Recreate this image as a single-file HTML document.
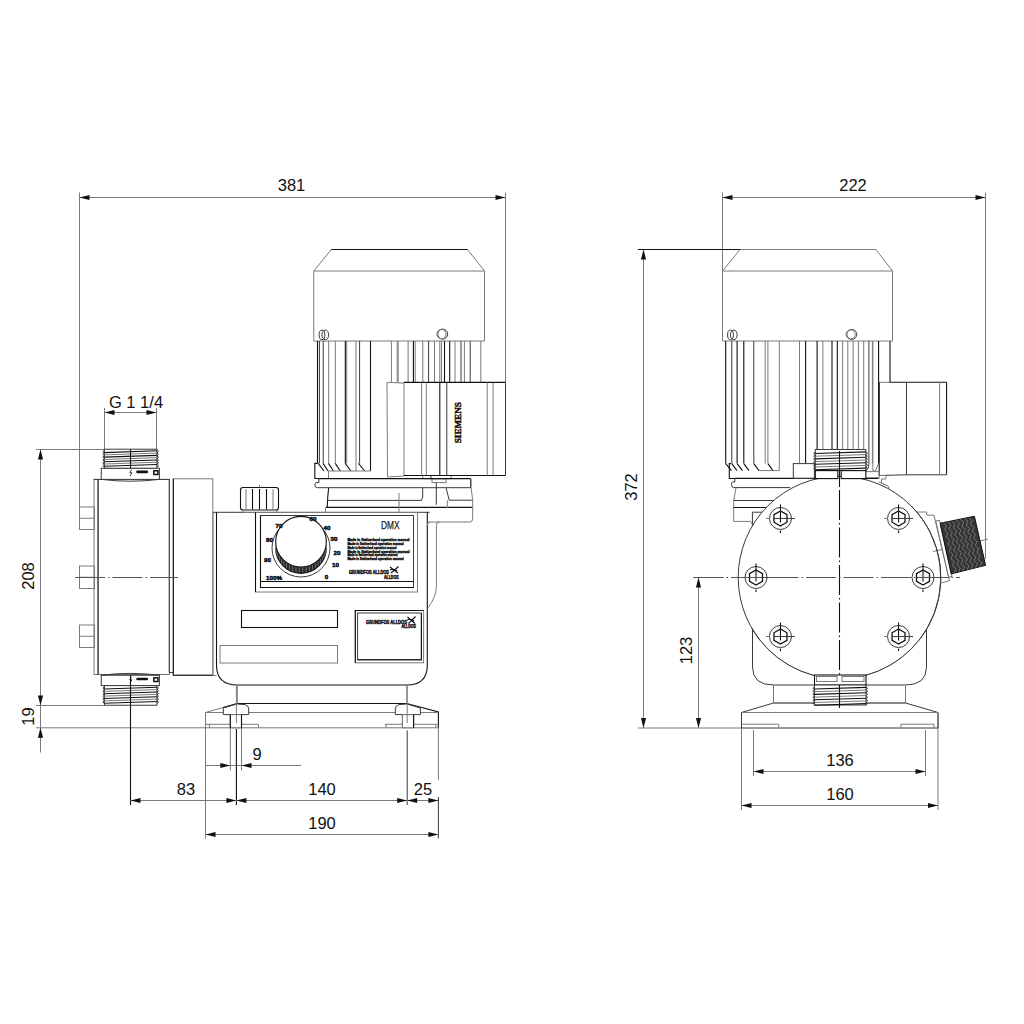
<!DOCTYPE html>
<html><head><meta charset="utf-8"><title>DMX pump drawing</title><style>
html,body{margin:0;padding:0;background:#fff;}
svg{display:block;}
.g{fill:none;stroke:#7a7a7a;stroke-width:1;}
.m{fill:none;stroke:#3a3a3a;stroke-width:1;}
.mw{fill:#fff;stroke:#3a3a3a;stroke-width:1;}
.k{fill:none;stroke:#111;stroke-width:1.1;}
.kw{fill:#fff;stroke:#111;stroke-width:1.1;}
.gw{fill:#fff;stroke:#6e6e6e;stroke-width:1;}
.cl{fill:none;stroke:#555;stroke-width:1;stroke-dasharray:30 3 1.5 3;}
.clk{fill:none;stroke:#111;stroke-width:1.1;stroke-dasharray:30 3 1.5 3;}
.ar{fill:#111;stroke:none;}
.fk{fill:#111;stroke:none;}
.t{font-family:"Liberation Sans",sans-serif;fill:#111;}
.tb{font-family:"Liberation Sans",sans-serif;fill:#111;font-weight:bold;}
.ts{font-family:"Liberation Sans",sans-serif;fill:#111;font-weight:bold;stroke:#111;stroke-width:0.45;}
</style></head><body>
<svg width="1024" height="1024" viewBox="0 0 1024 1024">
<rect x="0" y="0" width="1024" height="1024" fill="#fff"/>
<line class="g" x1="79.5" y1="192.5" x2="79.5" y2="507"/>
<line class="g" x1="505.5" y1="192.5" x2="505.5" y2="382.4"/>
<line class="g" x1="79.5" y1="197.5" x2="505.5" y2="197.5"/>
<polygon class="ar" points="79.5,197.5 89.5,194.9 89.5,200.1"/>
<polygon class="ar" points="505.5,197.5 495.5,194.9 495.5,200.1"/>
<text class="t" x="291.5" y="191" font-size="16.5" text-anchor="middle">381</text>
<line class="g" x1="104.5" y1="408" x2="104.5" y2="449.5"/>
<line class="g" x1="156.5" y1="408" x2="156.5" y2="449.5"/>
<line class="g" x1="104.5" y1="412.5" x2="156.5" y2="412.5"/>
<polygon class="ar" points="104.5,412.5 114.5,409.9 114.5,415.1"/>
<polygon class="ar" points="156.5,412.5 146.5,409.9 146.5,415.1"/>
<text class="t" x="136" y="407.5" font-size="16.5" text-anchor="middle">G 1 1/4</text>
<line class="g" x1="36" y1="449.5" x2="104.5" y2="449.5"/>
<line class="g" x1="36" y1="705.5" x2="104.5" y2="705.5"/>
<line class="g" x1="36" y1="727.8" x2="205.5" y2="727.8"/>
<line class="g" x1="40.5" y1="449.5" x2="40.5" y2="752.5"/>
<polygon class="ar" points="40.5,449.5 37.9,459.5 43.1,459.5"/>
<polygon class="ar" points="40.5,705.5 37.9,695.5 43.1,695.5"/>
<polygon class="ar" points="40.5,727.8 37.9,737.8 43.1,737.8"/>
<text class="t" x="34" y="576" font-size="16.5" text-anchor="middle" transform="rotate(-90 34 576)">208</text>
<text class="t" x="34" y="716.5" font-size="16.5" text-anchor="middle" transform="rotate(-90 34 716.5)">19</text>
<line class="g" x1="230.3" y1="727.8" x2="230.3" y2="770.4"/>
<line class="g" x1="241.5" y1="727.8" x2="241.5" y2="770.4"/>
<line class="g" x1="205.5" y1="765.5" x2="301" y2="765.5"/>
<polygon class="ar" points="230.3,765.5 220.3,762.9 220.3,768.1"/>
<polygon class="ar" points="241.5,765.5 251.5,762.9 251.5,768.1"/>
<text class="t" x="257" y="760" font-size="16.5" text-anchor="middle">9</text>
<line class="k" x1="130.5" y1="705.5" x2="130.5" y2="805"/>
<line class="k" x1="236.4" y1="729" x2="236.4" y2="805"/>
<line class="m" x1="407.2" y1="730.4" x2="407.2" y2="805"/>
<line class="g" x1="130.5" y1="800.5" x2="438.5" y2="800.5"/>
<polygon class="ar" points="130.5,800.5 140.5,797.9 140.5,803.1"/>
<polygon class="ar" points="236.4,800.5 226.4,797.9 226.4,803.1"/>
<polygon class="ar" points="236.4,800.5 246.4,797.9 246.4,803.1"/>
<polygon class="ar" points="407.2,800.5 397.2,797.9 397.2,803.1"/>
<polygon class="ar" points="407.2,800.5 417.2,797.9 417.2,803.1"/>
<polygon class="ar" points="438.4,800.5 428.4,797.9 428.4,803.1"/>
<text class="t" x="186" y="794.5" font-size="16.5" text-anchor="middle">83</text>
<text class="t" x="322" y="794.5" font-size="16.5" text-anchor="middle">140</text>
<text class="t" x="423" y="794.5" font-size="16.5" text-anchor="middle">25</text>
<line class="g" x1="205.5" y1="712.5" x2="205.5" y2="838.5"/>
<line class="g" x1="438.4" y1="727.8" x2="438.4" y2="780"/>
<line class="m" x1="438.4" y1="797" x2="438.4" y2="838.5"/>
<line class="g" x1="205.5" y1="834.5" x2="438.4" y2="834.5"/>
<polygon class="ar" points="205.5,834.5 215.5,831.9 215.5,837.1"/>
<polygon class="ar" points="438.4,834.5 428.4,831.9 428.4,837.1"/>
<text class="t" x="322" y="828.5" font-size="16.5" text-anchor="middle">190</text>
<line class="g" x1="722.5" y1="192.5" x2="722.5" y2="270.75"/>
<line class="g" x1="985.5" y1="192.5" x2="985.5" y2="559"/>
<line class="g" x1="722.5" y1="197.5" x2="985.5" y2="197.5"/>
<polygon class="ar" points="722.5,197.5 732.5,194.9 732.5,200.1"/>
<polygon class="ar" points="985.5,197.5 975.5,194.9 975.5,200.1"/>
<text class="t" x="853" y="191" font-size="16.5" text-anchor="middle">222</text>
<line class="k" x1="638" y1="249.5" x2="876" y2="249.5"/>
<line class="g" x1="643.5" y1="249.5" x2="643.5" y2="728"/>
<polygon class="ar" points="643.5,249.5 640.9,259.5 646.1,259.5"/>
<polygon class="ar" points="643.5,728 640.9,718 646.1,718"/>
<text class="t" x="637" y="487" font-size="16.5" text-anchor="middle" transform="rotate(-90 637 487)">372</text>
<line class="cl" x1="693.5" y1="577.5" x2="960" y2="577.5"/>
<line class="g" x1="698.5" y1="577.5" x2="698.5" y2="728"/>
<polygon class="ar" points="698.5,577.5 695.9,587.5 701.1,587.5"/>
<polygon class="ar" points="698.5,728 695.9,718 701.1,718"/>
<text class="t" x="692" y="650.5" font-size="16.5" text-anchor="middle" transform="rotate(-90 692 650.5)">123</text>
<line class="g" x1="638" y1="728" x2="741" y2="728"/>
<line class="g" x1="753.5" y1="730" x2="753.5" y2="776"/>
<line class="g" x1="925.5" y1="730" x2="925.5" y2="776"/>
<line class="g" x1="753.5" y1="771.5" x2="925.5" y2="771.5"/>
<polygon class="ar" points="753.5,771.5 763.5,768.9 763.5,774.1"/>
<polygon class="ar" points="925.5,771.5 915.5,768.9 915.5,774.1"/>
<text class="t" x="840" y="765.5" font-size="16.5" text-anchor="middle">136</text>
<line class="g" x1="741.5" y1="712.5" x2="741.5" y2="810"/>
<line class="g" x1="938" y1="712.5" x2="938" y2="810"/>
<line class="g" x1="741.5" y1="805.5" x2="938" y2="805.5"/>
<polygon class="ar" points="741.5,805.5 751.5,802.9 751.5,808.1"/>
<polygon class="ar" points="938,805.5 928,802.9 928,808.1"/>
<text class="t" x="840" y="799.5" font-size="16.5" text-anchor="middle">160</text>
<rect class="g" x="79.5" y="507" width="15" height="22.5"/>
<line class="g" x1="79.5" y1="518.25" x2="95" y2="518.25"/>
<rect class="g" x="79.5" y="566" width="15" height="22.5"/>
<line class="g" x1="79.5" y1="577.25" x2="95" y2="577.25"/>
<rect class="g" x="79.5" y="625" width="15" height="22.5"/>
<line class="g" x1="79.5" y1="636.25" x2="95" y2="636.25"/>
<rect class="g" x="94" y="479.5" width="4" height="195"/>
<rect class="gw" x="98" y="479.5" width="71.5" height="195"/>
<line class="m" x1="98.2" y1="479.5" x2="98.2" y2="675"/>
<line class="m" x1="169.2" y1="479.4" x2="169.2" y2="672.5"/>
<line class="m" x1="169.2" y1="672.5" x2="173.3" y2="672.5"/>
<rect class="g" x="173.3" y="478.8" width="39.5" height="196.4"/>
<line class="k" x1="173.3" y1="478.8" x2="173.3" y2="675.2"/>
<line class="k" x1="173.3" y1="675.2" x2="212.8" y2="675.2"/>
<rect class="mw" x="101.25" y="468.2" width="58.15" height="11.2"/>
<rect class="fk" x="153.1" y="470" width="5.6" height="5.2"/>
<rect x="154.6" y="471.5" width="2.6" height="2.2" fill="#fff"/>
<rect class="fk" x="136.3" y="470.6" width="11.7" height="2.6" rx="1"/>
<path class="m" d="M131.5 469.7 L129.8 472.7 L131.8 472.7 L130 476.2"/>
<rect class="mw" x="104.4" y="449.2" width="52.5" height="19"/>
<line class="k" x1="104.4" y1="452.6" x2="156.9" y2="450.8"/>
<line class="g" x1="104.4" y1="454.89" x2="156.9" y2="453.09"/>
<line class="k" x1="104.4" y1="457.17" x2="156.9" y2="455.37"/>
<line class="g" x1="104.4" y1="459.46" x2="156.9" y2="457.66"/>
<line class="k" x1="104.4" y1="461.74" x2="156.9" y2="459.94"/>
<line class="g" x1="104.4" y1="464.03" x2="156.9" y2="462.23"/>
<line class="k" x1="104.4" y1="466.31" x2="156.9" y2="464.51"/>
<path class="m" d="M104.4 450.2 L102.8 451.6 L104.4 453"/>
<path class="m" d="M156.9 450.2 L158.5 451.6 L156.9 453"/>
<path class="m" d="M104.4 453 L102.8 454.4 L104.4 455.8"/>
<path class="m" d="M156.9 453 L158.5 454.4 L156.9 455.8"/>
<path class="m" d="M104.4 455.8 L102.8 457.2 L104.4 458.6"/>
<path class="m" d="M156.9 455.8 L158.5 457.2 L156.9 458.6"/>
<path class="m" d="M104.4 458.6 L102.8 460 L104.4 461.4"/>
<path class="m" d="M156.9 458.6 L158.5 460 L156.9 461.4"/>
<path class="m" d="M104.4 461.4 L102.8 462.8 L104.4 464.2"/>
<path class="m" d="M156.9 461.4 L158.5 462.8 L156.9 464.2"/>
<path class="m" d="M104.4 464.2 L102.8 465.6 L104.4 467"/>
<path class="m" d="M156.9 464.2 L158.5 465.6 L156.9 467"/>
<line class="k" x1="130.5" y1="449.2" x2="130.5" y2="468.2"/>
<path class="m" d="M93.75 479.4 L101.25 479.4 Q130.5 483 159.4 479.4 L169.4 479.4"/>
<rect class="mw" x="101.25" y="675.25" width="58.15" height="10.35"/>
<rect class="fk" x="153.1" y="677.05" width="5.6" height="5.2"/>
<rect x="154.6" y="678.55" width="2.6" height="2.2" fill="#fff"/>
<rect class="fk" x="136.3" y="677.65" width="11.7" height="2.6" rx="1"/>
<path class="m" d="M131.5 676.75 L129.8 679.75 L131.8 679.75 L130 683.25"/>
<path class="m" d="M101.25 675.25 Q130.5 671.5 159.4 675.25"/>
<rect class="mw" x="104.4" y="685.6" width="52.5" height="19.65"/>
<line class="k" x1="104.4" y1="689" x2="156.9" y2="687.2"/>
<line class="g" x1="104.4" y1="691.38" x2="156.9" y2="689.58"/>
<line class="k" x1="104.4" y1="693.76" x2="156.9" y2="691.96"/>
<line class="g" x1="104.4" y1="696.14" x2="156.9" y2="694.34"/>
<line class="k" x1="104.4" y1="698.51" x2="156.9" y2="696.71"/>
<line class="g" x1="104.4" y1="700.89" x2="156.9" y2="699.09"/>
<line class="k" x1="104.4" y1="703.27" x2="156.9" y2="701.47"/>
<path class="m" d="M104.4 686.6 L102.8 688 L104.4 689.4"/>
<path class="m" d="M156.9 686.6 L158.5 688 L156.9 689.4"/>
<path class="m" d="M104.4 689.4 L102.8 690.8 L104.4 692.2"/>
<path class="m" d="M156.9 689.4 L158.5 690.8 L156.9 692.2"/>
<path class="m" d="M104.4 692.2 L102.8 693.6 L104.4 695"/>
<path class="m" d="M156.9 692.2 L158.5 693.6 L156.9 695"/>
<path class="m" d="M104.4 695 L102.8 696.4 L104.4 697.8"/>
<path class="m" d="M156.9 695 L158.5 696.4 L156.9 697.8"/>
<path class="m" d="M104.4 697.8 L102.8 699.2 L104.4 700.6"/>
<path class="m" d="M156.9 697.8 L158.5 699.2 L156.9 700.6"/>
<path class="m" d="M104.4 700.6 L102.8 702 L104.4 703.4"/>
<path class="m" d="M156.9 700.6 L158.5 702 L156.9 703.4"/>
<line class="clk" x1="130.5" y1="675.25" x2="130.5" y2="705.25"/>
<line class="cl" x1="75" y1="577.5" x2="178" y2="577.5"/>
<path class="m" d="M213 512.3 L429.7 512.3"/>
<path class="k" d="M427.3 512.3 L427.3 665 Q427.3 685 407 685 L237.5 685 Q216.5 685 216.5 665 L216.5 512.3"/>
<line class="g" x1="213" y1="512.5" x2="213" y2="675"/>
<line class="g" x1="212.5" y1="675.5" x2="216.5" y2="675.5"/>
<path class="g" d="M439.5 522 Q436.4 522 436.4 525.5 L436.4 585.6 Q436.4 597 427.6 608.4"/>
<path class="g" d="M427.3 525 Q427.6 522 430 522"/>
<rect class="k" x="240.5" y="487.5" width="38" height="22.5" rx="2.5"/>
<line class="g" x1="246" y1="489" x2="246" y2="509.5"/>
<line class="k" x1="252.5" y1="489" x2="252.5" y2="509.5"/>
<line class="k" x1="259.5" y1="489" x2="259.5" y2="509.5"/>
<line class="k" x1="266.5" y1="489" x2="266.5" y2="509.5"/>
<line class="g" x1="273" y1="489" x2="273" y2="509.5"/>
<path class="g" d="M242 510 L244 512.5 L276 512.5 L278 510"/>
<line class="g" x1="259.5" y1="485" x2="259.5" y2="487.5"/>
<rect class="g" x="255.5" y="512.5" width="162" height="79.5"/>
<line class="k" x1="255.5" y1="512.3" x2="255.5" y2="592"/>
<rect class="m" x="260.5" y="515.5" width="153" height="72"/>
<path class="k" d="M260.5 515.5 L260.5 587.5 L413.5 587.5"/>
<line class="k" x1="260.5" y1="581.5" x2="413.5" y2="581.5"/>
<circle class="m" cx="301" cy="548" r="29"/>
<path d="M275.7 541.7 A25.3 25.3 0 0 0 326.3 541.7 L326.3 548 A25.3 25.3 0 0 1 275.7 548 Z" fill="#2a2a2a"/>
<path d="M275.7 548 A25.3 25.3 0 0 0 326.3 548" fill="none" stroke="#111" stroke-width="1.2"/>
<line x1="276.01" y1="545.66" x2="276.01" y2="551.16" stroke="#9a9a9a" stroke-width="0.6"/>
<line x1="276.77" y1="548.98" x2="276.77" y2="554.48" stroke="#9a9a9a" stroke-width="0.6"/>
<line x1="277.96" y1="552.16" x2="277.96" y2="557.66" stroke="#9a9a9a" stroke-width="0.6"/>
<line x1="279.58" y1="555.16" x2="279.58" y2="560.66" stroke="#9a9a9a" stroke-width="0.6"/>
<line x1="281.58" y1="557.91" x2="281.58" y2="563.41" stroke="#9a9a9a" stroke-width="0.6"/>
<line x1="283.93" y1="560.37" x2="283.93" y2="565.87" stroke="#9a9a9a" stroke-width="0.6"/>
<line x1="286.59" y1="562.5" x2="286.59" y2="568" stroke="#9a9a9a" stroke-width="0.6"/>
<line x1="289.51" y1="564.24" x2="289.51" y2="569.74" stroke="#9a9a9a" stroke-width="0.6"/>
<line x1="292.64" y1="565.58" x2="292.64" y2="571.08" stroke="#9a9a9a" stroke-width="0.6"/>
<line x1="295.93" y1="566.49" x2="295.93" y2="571.99" stroke="#9a9a9a" stroke-width="0.6"/>
<line x1="299.3" y1="566.94" x2="299.3" y2="572.44" stroke="#9a9a9a" stroke-width="0.6"/>
<line x1="302.7" y1="566.94" x2="302.7" y2="572.44" stroke="#9a9a9a" stroke-width="0.6"/>
<line x1="306.07" y1="566.49" x2="306.07" y2="571.99" stroke="#9a9a9a" stroke-width="0.6"/>
<line x1="309.36" y1="565.58" x2="309.36" y2="571.08" stroke="#9a9a9a" stroke-width="0.6"/>
<line x1="312.49" y1="564.24" x2="312.49" y2="569.74" stroke="#9a9a9a" stroke-width="0.6"/>
<line x1="315.41" y1="562.5" x2="315.41" y2="568" stroke="#9a9a9a" stroke-width="0.6"/>
<line x1="318.07" y1="560.37" x2="318.07" y2="565.87" stroke="#9a9a9a" stroke-width="0.6"/>
<line x1="320.42" y1="557.91" x2="320.42" y2="563.41" stroke="#9a9a9a" stroke-width="0.6"/>
<line x1="322.42" y1="555.16" x2="322.42" y2="560.66" stroke="#9a9a9a" stroke-width="0.6"/>
<line x1="324.04" y1="552.16" x2="324.04" y2="557.66" stroke="#9a9a9a" stroke-width="0.6"/>
<line x1="325.23" y1="548.98" x2="325.23" y2="554.48" stroke="#9a9a9a" stroke-width="0.6"/>
<line x1="325.99" y1="545.66" x2="325.99" y2="551.16" stroke="#9a9a9a" stroke-width="0.6"/>
<circle cx="301" cy="541.7" r="25.3" fill="#fff" stroke="#111" stroke-width="1.1"/>
<text class="ts" x="279" y="527.5" font-size="6.2" text-anchor="middle" style="stroke-width:0.5">70</text>
<text class="ts" x="313" y="520.5" font-size="6.2" text-anchor="middle" style="stroke-width:0.5">60</text>
<text class="ts" x="327" y="529.5" font-size="6.2" text-anchor="middle" style="stroke-width:0.5">40</text>
<text class="ts" x="334" y="540.5" font-size="6.2" text-anchor="middle" style="stroke-width:0.5">30</text>
<text class="ts" x="337" y="554.5" font-size="6.2" text-anchor="middle" style="stroke-width:0.5">20</text>
<text class="ts" x="335.5" y="567" font-size="6.2" text-anchor="middle" style="stroke-width:0.5">10</text>
<text class="ts" x="326.5" y="579" font-size="6.2" text-anchor="middle" style="stroke-width:0.5">0</text>
<text class="ts" x="274" y="579.5" font-size="6.2" text-anchor="middle" style="stroke-width:0.5">100%</text>
<text class="ts" x="267.5" y="562" font-size="6.2" text-anchor="middle" style="stroke-width:0.5">90</text>
<text class="ts" x="269.5" y="541.5" font-size="6.2" text-anchor="middle" style="stroke-width:0.5">80</text>
<text class="t" x="390.3" y="529.3" font-size="11.2" text-anchor="middle" textLength="18.5" lengthAdjust="spacingAndGlyphs" style="stroke:#222;stroke-width:0.25">DMX</text>
<text class="ts" x="347.5" y="540.8" font-size="4.4" text-anchor="start" textLength="62" lengthAdjust="spacingAndGlyphs">Made in Switzerland operation manual</text>
<text class="ts" x="347.5" y="544.7" font-size="4.4" text-anchor="start" textLength="56" lengthAdjust="spacingAndGlyphs">Made in Switzerland operation manual</text>
<text class="ts" x="347.5" y="548.6" font-size="4.4" text-anchor="start" textLength="49" lengthAdjust="spacingAndGlyphs">Made in Switzerland operation manual</text>
<text class="ts" x="347.5" y="552.5" font-size="4.4" text-anchor="start" textLength="62" lengthAdjust="spacingAndGlyphs">Made in Switzerland operation manual</text>
<text class="ts" x="347.5" y="556.4" font-size="4.4" text-anchor="start" textLength="50" lengthAdjust="spacingAndGlyphs">Made in Switzerland operation manual</text>
<text class="ts" x="347.5" y="560.3" font-size="4.4" text-anchor="start" textLength="56" lengthAdjust="spacingAndGlyphs">Made in Switzerland operation manual</text>
<text class="ts" x="349" y="574" font-size="5" text-anchor="start" textLength="40" lengthAdjust="spacingAndGlyphs">GRUNDFOS ALLDOS</text>
<path class="k" d="M390 567 L398 573 M391 573 L398.5 566.5 M390 570 Q394 568 397 571"/>
<text class="ts" x="384" y="578.6" font-size="4.5" text-anchor="start" textLength="14.5" lengthAdjust="spacingAndGlyphs">ALLDOS</text>
<rect class="k" x="241.5" y="610.5" width="96" height="17"/>
<rect class="g" x="220" y="645.5" width="117.5" height="17.5"/>
<rect class="g" x="355.3" y="610.5" width="68.3" height="52.3"/>
<path class="k" d="M355.3 662.8 L355.3 610.5 L423.6 610.5"/>
<rect class="m" x="357.6" y="613" width="63.8" height="46.8"/>
<path class="k" d="M357.6 659.8 L421.4 659.8 L421.4 613"/>
<text class="ts" x="366.1" y="623.8" font-size="5" text-anchor="start" textLength="40.8" lengthAdjust="spacingAndGlyphs">GRUNDFOS ALLDOS</text>
<path class="k" d="M407.5 617 L415 623.5 M408.5 623.5 L415.5 616.5 M407 620 Q411 618 414 621"/>
<text class="ts" x="401.4" y="628.3" font-size="4.5" text-anchor="start" textLength="14.5" lengthAdjust="spacingAndGlyphs">ALLDOS</text>
<line class="g" x1="237.3" y1="685" x2="237.3" y2="703.5"/>
<line class="g" x1="406.8" y1="685" x2="406.8" y2="703.5"/>
<line class="k" x1="237.3" y1="703.5" x2="406.8" y2="703.5"/>
<path class="g" d="M237.3 703.5 L205.5 712.5 L205.5 727.8"/>
<line class="k" x1="237.3" y1="703.5" x2="223.3" y2="707.6"/>
<path class="k" d="M406.8 703.5 L438.4 712 L438.4 727.8"/>
<line class="g" x1="205.5" y1="727.8" x2="438.4" y2="727.8"/>
<line class="g" x1="205.5" y1="712.5" x2="438.4" y2="712.5"/>
<line class="g" x1="205.5" y1="724.3" x2="230.3" y2="724.3"/>
<line class="g" x1="241.5" y1="724.3" x2="258.5" y2="724.3"/>
<line class="g" x1="385" y1="724.3" x2="402.4" y2="724.3"/>
<line class="g" x1="413.6" y1="724.3" x2="438.4" y2="724.3"/>
<line class="g" x1="209.5" y1="724.3" x2="209.5" y2="727.8"/>
<line class="g" x1="258.5" y1="724.3" x2="258.5" y2="727.8"/>
<line class="g" x1="386.1" y1="724.3" x2="386.1" y2="727.8"/>
<line class="g" x1="435.8" y1="724.3" x2="435.8" y2="727.8"/>
<path class="mw" d="M223.3 714.6 L223.3 708 L236.9 704 L245 704.6 Q248.7 705.5 248.7 709 L248.7 714.6 Z"/>
<rect class="gw" x="230.3" y="714.6" width="11.2" height="13.2"/>
<line class="k" x1="230.3" y1="714.6" x2="230.3" y2="727.8"/>
<line class="k" x1="241.5" y1="714.6" x2="241.5" y2="727.8"/>
<line class="g" x1="236.4" y1="685" x2="236.4" y2="723"/>
<path class="mw" d="M420.4 714.6 L420.4 708 L406.8 704 L399 704.6 Q395.3 705.5 395.3 709 L395.3 714.6 Z"/>
<rect class="gw" x="402.4" y="714.6" width="11.2" height="13.2"/>
<line class="g" x1="402.4" y1="714.6" x2="402.4" y2="727.8"/>
<line class="k" x1="413.6" y1="714.6" x2="413.6" y2="727.8"/>
<line class="g" x1="407.2" y1="685" x2="407.2" y2="723"/>
<path class="k" d="M328.7 487.5 Q327.5 497 327.2 507.4"/>
<line class="m" x1="327.5" y1="500.4" x2="421.5" y2="500.4"/>
<path class="m" d="M422.7 487.7 L422.7 497 L421.5 500.4"/>
<line class="k" x1="326" y1="507.4" x2="472.7" y2="507.4"/>
<path class="g" d="M325.5 507.4 L325.5 512.3"/>
<line class="g" x1="399" y1="493" x2="399" y2="512.3"/>
<path class="m" d="M446.1 487.7 L449.2 500.2 L472.7 500.2"/>
<path class="g" d="M471.1 478.7 L471.1 487.7 L472.7 500.2 L472.7 519 Q472.7 522 469.7 522 L429 522"/>
<line class="g" x1="447.3" y1="500.2" x2="447.3" y2="508"/>
<rect class="g" x="422.7" y="475.5" width="8.2" height="3.2"/>
<rect class="g" x="430.9" y="475.5" width="20.3" height="3.2"/>
<rect class="g" x="432" y="478.7" width="14.1" height="3.9"/>
<line class="m" x1="436.3" y1="482.6" x2="436.3" y2="504.8"/>
<path class="g" d="M331.25 249.5 L467.5 249.5 L484.5 271 L484.5 341 L313.75 341 L313.75 271 Z"/>
<line class="k" x1="331.25" y1="249.5" x2="467.5" y2="249.5"/>
<line class="g" x1="313.75" y1="271" x2="484.5" y2="271"/>
<ellipse class="m" cx="322" cy="334.9" rx="2.9" ry="4.8"/>
<ellipse class="m" cx="325.3" cy="334.9" rx="3.4" ry="4.8"/>
<circle class="m" cx="442.7" cy="334.1" r="5"/>
<circle class="g" cx="441.5" cy="334.1" r="4.6"/>
<line class="k" x1="317.5" y1="341" x2="317.5" y2="463.4"/>
<line class="m" x1="319.4" y1="341" x2="319.4" y2="463.4"/>
<line class="m" x1="323.2" y1="341" x2="323.2" y2="463.4"/>
<line class="g" x1="328.7" y1="341" x2="328.7" y2="463.4"/>
<line class="g" x1="335.3" y1="341" x2="335.3" y2="463.4"/>
<line class="k" x1="345.3" y1="341" x2="345.3" y2="463.4"/>
<line class="g" x1="346.7" y1="341" x2="346.7" y2="463.4"/>
<line class="g" x1="356" y1="341" x2="356" y2="471"/>
<line class="m" x1="359.6" y1="341" x2="359.6" y2="463.4"/>
<line class="k" x1="370.5" y1="341" x2="370.5" y2="471"/>
<line class="k" x1="318.2" y1="463.4" x2="324" y2="471"/>
<line class="k" x1="323" y1="463.4" x2="328" y2="471"/>
<line class="k" x1="328.5" y1="463.4" x2="333.5" y2="471"/>
<line class="k" x1="335.3" y1="463.4" x2="340.3" y2="471"/>
<line class="k" x1="345.2" y1="463.4" x2="351" y2="471"/>
<line class="k" x1="358.5" y1="463.4" x2="364.7" y2="471"/>
<line class="g" x1="328" y1="471" x2="370.5" y2="471"/>
<path class="k" d="M318.5 478.5 L314.8 478.5 L314.8 463.4 L317.5 463.4"/>
<line class="g" x1="328.5" y1="471" x2="328.5" y2="478.5"/>
<line class="k" x1="318.2" y1="478.6" x2="470.6" y2="478.6"/>
<path class="m" d="M318.9 478.6 L318.9 482.5 L317 482.5 Q314.8 482.5 314.8 485 Q314.8 487.7 317.5 487.7 L470.6 487.7 L470.6 478.6"/>
<line class="g" x1="391.4" y1="341" x2="391.4" y2="382.4"/>
<line class="g" x1="397.2" y1="341" x2="397.2" y2="382.4"/>
<line class="g" x1="398.2" y1="341" x2="398.2" y2="382.4"/>
<line class="g" x1="408.1" y1="341" x2="408.1" y2="382.4"/>
<line class="k" x1="413.4" y1="341" x2="413.4" y2="382.4"/>
<line class="g" x1="415.2" y1="341" x2="415.2" y2="382.4"/>
<line class="g" x1="422.8" y1="341" x2="422.8" y2="382.4"/>
<line class="m" x1="428.6" y1="341" x2="428.6" y2="382.4"/>
<line class="g" x1="434.5" y1="341" x2="434.5" y2="382.4"/>
<line class="g" x1="439.8" y1="341" x2="439.8" y2="382.4"/>
<line class="g" x1="441.5" y1="341" x2="441.5" y2="382.4"/>
<line class="k" x1="444.5" y1="341" x2="444.5" y2="382.4"/>
<line class="k" x1="449.7" y1="341" x2="449.7" y2="382.4"/>
<line class="g" x1="455" y1="341" x2="455" y2="382.4"/>
<line class="m" x1="461" y1="341" x2="461" y2="382.4"/>
<line class="g" x1="464.4" y1="341" x2="464.4" y2="382.4"/>
<line class="m" x1="470.2" y1="341" x2="470.2" y2="382.4"/>
<line class="g" x1="480.8" y1="341" x2="480.8" y2="382.4"/>
<path class="g" d="M387 382.4 L404 383 L404 476 L387.5 477 Z"/>
<line class="k" x1="404" y1="382.4" x2="505.5" y2="382.4"/>
<line class="m" x1="505.5" y1="382.4" x2="505.5" y2="475.5"/>
<line class="k" x1="404" y1="475.5" x2="505.5" y2="475.5"/>
<line class="g" x1="421.6" y1="382.4" x2="421.6" y2="475.5"/>
<line class="g" x1="426.3" y1="382.4" x2="426.3" y2="475.5"/>
<line class="k" x1="439.8" y1="382.4" x2="439.8" y2="475.5"/>
<line class="m" x1="446.8" y1="382.4" x2="446.8" y2="475.5"/>
<line class="g" x1="487.2" y1="382.4" x2="487.2" y2="475.5"/>
<line class="g" x1="493.1" y1="382.4" x2="493.1" y2="475.5"/>
<text class="ts" x="458" y="422.7" font-size="8.5" text-anchor="middle" transform="rotate(-90 458 422.7)" dominant-baseline="central" textLength="41" lengthAdjust="spacingAndGlyphs" style="font-family:'Liberation Serif',serif">SIEMENS</text>
<path class="g" d="M740 249.5 L876 249.5 L892.5 271 L892.5 341 L722.5 341 L722.5 271 Z"/>
<line class="g" x1="722.5" y1="271" x2="892.5" y2="271"/>
<ellipse class="m" cx="730.5" cy="334.9" rx="2.9" ry="4.8"/>
<ellipse class="m" cx="733.8" cy="334.9" rx="3.4" ry="4.8"/>
<circle class="m" cx="851.8" cy="334.4" r="5"/>
<circle class="g" cx="850.6" cy="334.4" r="4.6"/>
<line class="k" x1="725.7" y1="341" x2="725.7" y2="463.6"/>
<line class="m" x1="731.8" y1="341" x2="731.8" y2="463.6"/>
<line class="k" x1="737.1" y1="341" x2="737.1" y2="463.6"/>
<line class="k" x1="743.8" y1="341" x2="743.8" y2="463.6"/>
<line class="m" x1="753.8" y1="341" x2="753.8" y2="463.6"/>
<line class="g" x1="765.2" y1="341" x2="765.2" y2="463.6"/>
<line class="g" x1="767.9" y1="341" x2="767.9" y2="463.6"/>
<line class="g" x1="779.3" y1="341" x2="779.3" y2="463.6"/>
<line class="g" x1="799.5" y1="341" x2="799.5" y2="463.6"/>
<line class="k" x1="805.6" y1="341" x2="805.6" y2="463.6"/>
<line class="k" x1="817.1" y1="341" x2="817.1" y2="449.5"/>
<line class="g" x1="822.9" y1="341" x2="822.9" y2="449.5"/>
<line class="k" x1="832" y1="341" x2="832" y2="449.5"/>
<line class="k" x1="837.3" y1="341" x2="837.3" y2="449.5"/>
<line class="g" x1="842.6" y1="341" x2="842.6" y2="449.5"/>
<line class="g" x1="847.8" y1="341" x2="847.8" y2="449.5"/>
<line class="g" x1="853.1" y1="341" x2="853.1" y2="449.5"/>
<line class="g" x1="858.4" y1="341" x2="858.4" y2="449.5"/>
<line class="g" x1="863.7" y1="341" x2="863.7" y2="449.5"/>
<line class="m" x1="868.9" y1="341" x2="868.9" y2="463.6"/>
<line class="g" x1="872.4" y1="341" x2="872.4" y2="463.6"/>
<line class="k" x1="878.6" y1="341" x2="878.6" y2="463.6"/>
<line class="k" x1="725.7" y1="463.6" x2="731.5" y2="470.6"/>
<line class="k" x1="731.8" y1="463.6" x2="737" y2="470.6"/>
<line class="k" x1="737.1" y1="463.6" x2="742.5" y2="470.6"/>
<line class="k" x1="743.8" y1="463.6" x2="749" y2="470.6"/>
<line class="k" x1="753.8" y1="463.6" x2="759" y2="470.6"/>
<line class="k" x1="767.9" y1="463.6" x2="773" y2="470.6"/>
<line class="g" x1="759" y1="470.6" x2="779.3" y2="470.6"/>
<line class="g" x1="779.3" y1="463.6" x2="779.3" y2="470.6"/>
<path class="m" d="M869 463.4 Q869 469 865.2 471.7"/>
<path class="g" d="M872.9 341 L872.9 471 L875.4 471 L878.6 463.4"/>
<line class="k" x1="890" y1="341" x2="890" y2="382"/>
<line class="g" x1="879.2" y1="382.3" x2="889.4" y2="382.3"/>
<line class="k" x1="889.4" y1="382.3" x2="946.6" y2="382.3"/>
<line class="k" x1="946.6" y1="382.3" x2="946.6" y2="474.8"/>
<path class="m" d="M879.2 475.5 L906.5 474.8 L946.6 474.8"/>
<line class="m" x1="906.5" y1="382.3" x2="906.5" y2="474.8"/>
<line class="g" x1="939.6" y1="382.3" x2="939.6" y2="474.8"/>
<line class="k" x1="879.2" y1="382.3" x2="879.2" y2="476"/>
<path class="g" d="M879.2 475.5 L885.5 475.5 Q886.8 476.5 885.5 479 L881.5 479 L881.5 483 L885 485"/>
<rect class="g" x="864.6" y="471.6" width="14.6" height="6.4"/>
<path class="k" d="M735.3 478.5 L729.3 478.5 L729.3 463.6 L731 463.6"/>
<line class="k" x1="734.8" y1="478.4" x2="878.5" y2="478.4"/>
<path class="m" d="M734.8 478.4 L734.8 482 L732.5 482 Q731.5 482 731.5 484.5 Q731.5 487.6 733.5 487.6 L790 487.6"/>
<rect class="m" x="793.3" y="463.6" width="21.1" height="14.9"/>
<path class="g" d="M736 487.6 L733.7 500.5 L733.7 521.4 L750.5 521.4 L752.4 524"/>
<line class="m" x1="733.7" y1="500.5" x2="790" y2="500.5"/>
<line class="k" x1="733.7" y1="507.5" x2="790" y2="507.5"/>
<path class="m" d="M752.4 530 L752.4 512.2 L770 512.2"/>
<circle cx="839.5" cy="577.5" r="101.3" fill="#fff" stroke="#3a3a3a" stroke-width="1"/>
<path class="g" d="M879 482 L888 486 L890 490"/>
<rect class="mw" x="815.3" y="449.5" width="50.5" height="21.1"/>
<line class="k" x1="815.3" y1="453.5" x2="865.8" y2="451.9"/>
<line class="g" x1="815.3" y1="456.2" x2="865.8" y2="454.6"/>
<line class="k" x1="815.3" y1="458.9" x2="865.8" y2="457.3"/>
<line class="g" x1="815.3" y1="461.6" x2="865.8" y2="460"/>
<line class="k" x1="815.3" y1="464.3" x2="865.8" y2="462.7"/>
<line class="g" x1="815.3" y1="467" x2="865.8" y2="465.4"/>
<line class="k" x1="815.3" y1="469.7" x2="865.8" y2="468.1"/>
<path class="m" d="M815.3 452 L813.6 453.3 L815.3 454.6"/>
<path class="m" d="M865.8 452 L867.5 453.3 L865.8 454.6"/>
<path class="m" d="M815.3 455 L813.6 456.3 L815.3 457.6"/>
<path class="m" d="M865.8 455 L867.5 456.3 L865.8 457.6"/>
<path class="m" d="M815.3 458 L813.6 459.3 L815.3 460.6"/>
<path class="m" d="M865.8 458 L867.5 459.3 L865.8 460.6"/>
<path class="m" d="M815.3 461 L813.6 462.3 L815.3 463.6"/>
<path class="m" d="M865.8 461 L867.5 462.3 L865.8 463.6"/>
<path class="m" d="M815.3 464 L813.6 465.3 L815.3 466.6"/>
<path class="m" d="M865.8 464 L867.5 465.3 L865.8 466.6"/>
<path class="m" d="M815.3 467 L813.6 468.3 L815.3 469.6"/>
<path class="m" d="M865.8 467 L867.5 468.3 L865.8 469.6"/>
<rect class="kw" x="815.3" y="470.6" width="22.5" height="8"/>
<rect class="kw" x="841.2" y="470.6" width="24.6" height="8"/>
<line class="k" x1="839.5" y1="451" x2="839.5" y2="487"/>
<circle class="m" cx="923" cy="577.5" r="11"/>
<polygon class="k" points="923,585 916.5,581.25 916.5,573.75 923,570 929.5,573.75 929.5,581.25" style="stroke-width:1.3"/>
<line class="g" x1="908.5" y1="577.5" x2="912" y2="577.5"/>
<line class="m" x1="916" y1="577.5" x2="937.5" y2="577.5"/>
<line class="k" x1="923" y1="563.5" x2="923" y2="581.5"/>
<line class="k" x1="923" y1="589.5" x2="923" y2="592"/>
<circle class="m" cx="898.54" cy="518.46" r="11"/>
<polygon class="k" points="898.54,525.96 892.05,522.21 892.05,514.71 898.54,510.96 905.04,514.71 905.04,522.21" style="stroke-width:1.3"/>
<line class="g" x1="884.04" y1="518.46" x2="887.54" y2="518.46"/>
<line class="m" x1="891.54" y1="518.46" x2="913.04" y2="518.46"/>
<line class="k" x1="898.54" y1="504.46" x2="898.54" y2="522.46"/>
<line class="k" x1="898.54" y1="530.46" x2="898.54" y2="532.96"/>
<circle class="m" cx="780.46" cy="518.46" r="11"/>
<polygon class="k" points="780.46,525.96 773.96,522.21 773.96,514.71 780.46,510.96 786.95,514.71 786.95,522.21" style="stroke-width:1.3"/>
<line class="g" x1="765.96" y1="518.46" x2="769.46" y2="518.46"/>
<line class="m" x1="773.46" y1="518.46" x2="794.96" y2="518.46"/>
<line class="k" x1="780.46" y1="504.46" x2="780.46" y2="522.46"/>
<line class="k" x1="780.46" y1="530.46" x2="780.46" y2="532.96"/>
<circle class="m" cx="756" cy="577.5" r="11"/>
<polygon class="k" points="756,585 749.5,581.25 749.5,573.75 756,570 762.5,573.75 762.5,581.25" style="stroke-width:1.3"/>
<line class="g" x1="741.5" y1="577.5" x2="745" y2="577.5"/>
<line class="m" x1="749" y1="577.5" x2="770.5" y2="577.5"/>
<line class="k" x1="756" y1="563.5" x2="756" y2="581.5"/>
<line class="k" x1="756" y1="589.5" x2="756" y2="592"/>
<circle class="m" cx="780.46" cy="636.54" r="11"/>
<polygon class="k" points="780.46,644.04 773.96,640.29 773.96,632.79 780.46,629.04 786.95,632.79 786.95,640.29" style="stroke-width:1.3"/>
<line class="g" x1="765.96" y1="636.54" x2="769.46" y2="636.54"/>
<line class="m" x1="773.46" y1="636.54" x2="794.96" y2="636.54"/>
<line class="k" x1="780.46" y1="622.54" x2="780.46" y2="640.54"/>
<line class="k" x1="780.46" y1="648.54" x2="780.46" y2="651.04"/>
<circle class="m" cx="898.54" cy="636.54" r="11"/>
<polygon class="k" points="898.54,644.04 892.05,640.29 892.05,632.79 898.54,629.04 905.04,632.79 905.04,640.29" style="stroke-width:1.3"/>
<line class="g" x1="884.04" y1="636.54" x2="887.54" y2="636.54"/>
<line class="m" x1="891.54" y1="636.54" x2="913.04" y2="636.54"/>
<line class="k" x1="898.54" y1="622.54" x2="898.54" y2="640.54"/>
<line class="k" x1="898.54" y1="648.54" x2="898.54" y2="651.04"/>
<line class="clk" x1="839.5" y1="490" x2="839.5" y2="676"/>
<line class="cl" x1="693.5" y1="577.5" x2="948" y2="577.5"/>
<path d="M759.67 639.87 L752.5 667 Q752.5 685 773.5 685 L905.5 685 Q926.5 685 926.5 667 L919.33 639.87 A101.3 101.3 0 0 1 759.67 639.87 Z" fill="#fff" stroke="none"/>
<path class="m" d="M752.5 628.5 L752.5 667 Q752.5 685 773.5 685 L905.5 685 Q926.5 685 926.5 667 L926.5 630"/>
<path class="m" d="M751.77 628.15 A101.3 101.3 0 0 0 927.23 628.15"/>
<line class="g" x1="773.5" y1="685" x2="773.5" y2="703"/>
<line class="g" x1="905.5" y1="685" x2="905.5" y2="703"/>
<line class="k" x1="773.5" y1="703" x2="905.5" y2="703"/>
<path class="m" d="M773.5 703 L741.5 712.5 L741.5 728 L938 728 L938 712.5 L905.5 703"/>
<line class="g" x1="741.5" y1="712.5" x2="938" y2="712.5"/>
<path class="g" d="M741.5 724.2 L778.7 724.2 L778.7 728"/>
<path class="g" d="M901 728 L901 724.2 L934 724.2 L934 728"/>
<rect class="kw" x="814.5" y="675" width="51.5" height="10"/>
<rect class="g" x="816.5" y="676.5" width="20.5" height="5"/>
<rect class="g" x="842" y="676.5" width="22" height="5"/>
<rect class="mw" x="814.5" y="685" width="51.5" height="20"/>
<line class="k" x1="814.5" y1="689" x2="866" y2="687.4"/>
<line class="g" x1="814.5" y1="691.7" x2="866" y2="690.1"/>
<line class="k" x1="814.5" y1="694.4" x2="866" y2="692.8"/>
<line class="g" x1="814.5" y1="697.1" x2="866" y2="695.5"/>
<line class="k" x1="814.5" y1="699.8" x2="866" y2="698.2"/>
<line class="g" x1="814.5" y1="702.5" x2="866" y2="700.9"/>
<line class="k" x1="814.5" y1="705.2" x2="866" y2="703.6"/>
<path class="m" d="M814.5 687 L812.8 688.3 L814.5 689.6"/>
<path class="m" d="M866 687 L867.7 688.3 L866 689.6"/>
<path class="m" d="M814.5 690 L812.8 691.3 L814.5 692.6"/>
<path class="m" d="M866 690 L867.7 691.3 L866 692.6"/>
<path class="m" d="M814.5 693 L812.8 694.3 L814.5 695.6"/>
<path class="m" d="M866 693 L867.7 694.3 L866 695.6"/>
<path class="m" d="M814.5 696 L812.8 697.3 L814.5 698.6"/>
<path class="m" d="M866 696 L867.7 697.3 L866 698.6"/>
<path class="m" d="M814.5 699 L812.8 700.3 L814.5 701.6"/>
<path class="m" d="M866 699 L867.7 700.3 L866 701.6"/>
<path class="m" d="M814.5 702 L812.8 703.3 L814.5 704.6"/>
<path class="m" d="M866 702 L867.7 703.3 L866 704.6"/>
<line class="k" x1="839.5" y1="685" x2="839.5" y2="708"/>
<line class="g" x1="933" y1="551.5" x2="988" y2="539"/>
<path class="g" d="M917 512 L926.7 512 L926.7 515 L934 515.3 L949.5 580.8 L940.9 583"/>
<polygon class="gw" points="935.8,521 939.6,520.4 952.1,576.5 948.7,577.3"/>
<polygon points="940.1,523.2 974.4,516.3 985.6,565.3 951.2,573.9" fill="#353535" stroke="#111" stroke-width="1"/>
<polyline points="943.02,522.64 946.55,525.64 944.61,529.86 948.13,532.85 946.2,537.07 949.72,540.06 947.78,544.28 951.31,547.28 949.37,551.49 952.9,554.49 950.96,558.71 954.48,561.7 952.55,565.92 956.07,568.91 954.13,573.13" fill="none" stroke="#8c8c8c" stroke-width="0.7"/>
<polyline points="947.31,521.78 950.84,524.76 948.9,528.96 952.43,531.94 950.49,536.15 954.01,539.12 952.08,543.33 955.6,546.31 953.67,550.51 957.19,553.49 955.26,557.69 958.78,560.67 956.84,564.87 960.37,567.85 958.43,572.06" fill="none" stroke="#8c8c8c" stroke-width="0.7"/>
<polyline points="951.6,520.92 955.12,523.88 953.19,528.07 956.72,531.03 954.78,535.22 958.31,538.19 956.37,542.37 959.9,545.34 957.96,549.53 961.49,552.49 959.55,556.68 963.08,559.64 961.14,563.83 964.67,566.79 962.73,570.98" fill="none" stroke="#8c8c8c" stroke-width="0.7"/>
<polyline points="955.88,520.06 959.41,523 957.48,527.18 961.01,530.13 959.07,534.3 962.6,537.25 960.66,541.42 964.19,544.37 962.26,548.54 965.78,551.49 963.85,555.66 967.38,558.61 965.44,562.78 968.97,565.73 967.03,569.91" fill="none" stroke="#8c8c8c" stroke-width="0.7"/>
<polyline points="960.17,519.19 963.7,522.13 961.77,526.28 965.3,529.22 963.36,533.38 966.89,536.31 964.96,540.47 968.48,543.4 966.55,547.56 970.08,550.49 968.14,554.65 971.67,557.58 969.74,561.74 973.27,564.67 971.33,568.83" fill="none" stroke="#8c8c8c" stroke-width="0.7"/>
<polyline points="964.46,518.33 967.99,521.25 966.06,525.39 969.59,528.31 967.65,532.45 971.18,535.37 969.25,539.51 972.78,542.43 970.84,546.57 974.38,549.49 972.44,553.63 975.97,556.55 974.04,560.7 977.57,563.61 975.63,567.76" fill="none" stroke="#8c8c8c" stroke-width="0.7"/>
<polyline points="968.75,517.47 972.28,520.37 970.34,524.5 973.88,527.4 971.94,531.53 975.47,534.43 973.54,538.56 977.07,541.46 975.14,545.59 978.67,548.49 976.74,552.62 980.27,555.52 978.34,559.65 981.87,562.55 979.93,566.68" fill="none" stroke="#8c8c8c" stroke-width="0.7"/>
<path class="m" d="M911.13 505.87 A101.3 101.3 0 0 1 927.23 628.15"/>
</svg>
</body></html>
